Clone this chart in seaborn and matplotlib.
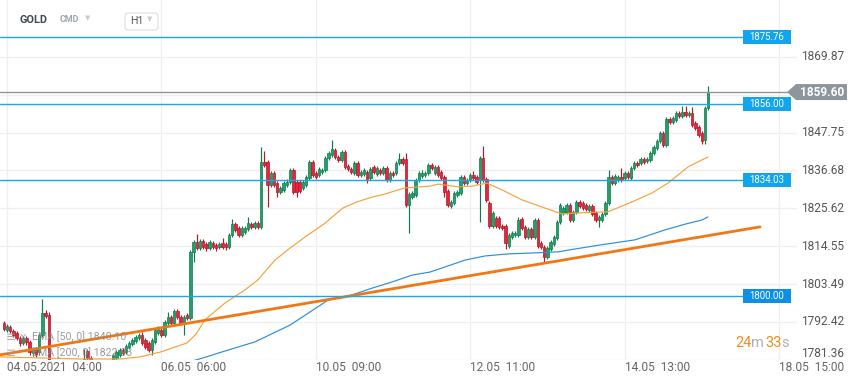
import matplotlib

matplotlib.use("Agg")
import matplotlib.pyplot as plt
import numpy as np
import seaborn as sns
from matplotlib.patches import Polygon, Rectangle, FancyBboxPatch
from matplotlib.transforms import IdentityTransform, blended_transform_factory

# ---- data (GOLD, H1 candles, index 0 = 04.05.2021 04:00) ----
first_index = -1

opens = [
    1792.1, 1790.1, 1791.0, 1789.8, 1789.2, 1787.7, 1786.3, 1787.7, 1786.6, 1783.4,
    1784.5, 1783.6, 1788.6, 1795.0, 1794.5, 1776.0, 1774.5, 1775.8, 1773.2, 1772.0,
    1773.6, 1775.9, 1777.4, 1776.2, 1778.5, 1780.2, 1784.0, 1782.0, 1779.5, 1777.8,
    1778.9, 1777.5, 1779.2, 1778.3, 1780.4, 1781.9, 1782.8, 1784.2, 1783.6, 1785.1,
    1786.0, 1786.9, 1787.7, 1788.6, 1787.2, 1786.3, 1784.2, 1786.6, 1789.2, 1790.1,
    1788.6, 1792.1, 1793.9, 1792.1, 1795.6, 1793.9, 1792.1, 1794.5, 1793.6, 1812.9,
    1815.8, 1814.0, 1816.1, 1815.2, 1814.0, 1815.5, 1814.9, 1814.3, 1815.5, 1815.2,
    1814.3, 1817.8, 1821.0, 1819.9, 1817.8, 1818.7, 1819.6, 1821.0, 1820.2, 1821.3,
    1820.2, 1839.2, 1839.2, 1832.4, 1835.9, 1833.0, 1830.4, 1831.0, 1832.4, 1833.3,
    1836.8, 1833.3, 1833.3, 1831.6, 1832.4, 1834.5, 1839.2, 1835.9, 1835.4, 1836.2,
    1836.8, 1840.3, 1841.2, 1842.7, 1840.6, 1839.7, 1842.1, 1838.0, 1837.1, 1835.9,
    1838.9, 1835.4, 1835.6, 1836.2, 1834.5, 1837.7, 1835.6, 1836.8, 1835.9, 1837.4,
    1833.9, 1835.9, 1835.9, 1838.9, 1840.0, 1840.0, 1826.6, 1828.9, 1829.5, 1833.9,
    1835.1, 1835.4, 1835.9, 1838.3, 1835.9, 1837.7, 1836.2, 1834.8, 1830.7, 1826.3,
    1827.2, 1829.5, 1830.1, 1834.8, 1833.0, 1833.9, 1835.4, 1834.8, 1833.9, 1840.3,
    1834.2, 1827.2, 1820.5, 1822.8, 1822.8, 1820.5, 1820.5, 1814.6, 1817.2, 1817.8,
    1817.8, 1822.5, 1820.2, 1817.2, 1819.6, 1817.2, 1822.2, 1815.5, 1814.3, 1811.4,
    1813.7, 1815.2, 1817.0, 1821.6, 1824.3, 1824.6, 1826.6, 1822.2, 1824.6, 1827.5,
    1827.2, 1826.6, 1825.1, 1826.3, 1824.3, 1822.2, 1822.2, 1824.0, 1827.2, 1834.8,
    1833.0, 1833.9, 1834.8, 1834.5, 1835.9, 1834.5, 1837.4, 1838.9, 1838.9, 1840.0,
    1839.5, 1839.7, 1841.8, 1843.2, 1845.3, 1847.6, 1844.1, 1851.7, 1850.8, 1851.4,
    1853.5, 1852.6, 1853.8, 1852.9, 1853.5, 1850.6, 1849.4, 1847.6, 1845.6, 1854.9,
]
highs = [
    1792.7, 1791.8, 1791.5, 1790.4, 1789.8, 1788.3, 1788.3, 1788.3, 1787.2, 1785.1,
    1785.1, 1789.2, 1799.1, 1795.9, 1795.3, 1777.5, 1776.8, 1776.2, 1774.0, 1774.5,
    1776.8, 1778.6, 1778.2, 1779.4, 1781.0, 1784.6, 1784.6, 1782.5, 1780.3, 1779.8,
    1779.6, 1780.0, 1780.1, 1781.0, 1783.4, 1784.2, 1784.8, 1784.8, 1786.0, 1786.9,
    1787.7, 1788.6, 1789.2, 1789.5, 1787.7, 1786.9, 1787.7, 1790.7, 1791.2, 1790.7,
    1793.0, 1795.3, 1794.5, 1796.2, 1796.2, 1794.5, 1794.5, 1795.0, 1813.5, 1816.4,
    1818.1, 1816.7, 1816.7, 1815.8, 1816.4, 1816.1, 1815.5, 1815.8, 1817.0, 1815.8,
    1818.4, 1822.5, 1821.6, 1820.5, 1820.5, 1820.5, 1823.1, 1821.6, 1821.9, 1821.9,
    1843.5, 1842.4, 1839.7, 1836.5, 1836.5, 1833.6, 1832.1, 1833.6, 1834.2, 1837.4,
    1837.4, 1833.9, 1833.9, 1833.9, 1835.4, 1839.7, 1839.7, 1836.5, 1837.7, 1837.4,
    1840.9, 1842.4, 1845.6, 1843.2, 1841.2, 1842.7, 1842.7, 1838.6, 1837.7, 1839.5,
    1839.5, 1836.8, 1837.4, 1836.8, 1837.7, 1838.3, 1838.0, 1837.4, 1838.0, 1838.0,
    1836.5, 1836.5, 1839.5, 1841.8, 1840.6, 1841.8, 1830.4, 1830.7, 1834.5, 1836.5,
    1836.8, 1836.5, 1838.9, 1838.9, 1838.3, 1838.3, 1836.8, 1835.4, 1831.3, 1828.0,
    1830.7, 1831.0, 1835.4, 1835.4, 1834.5, 1836.0, 1836.5, 1835.4, 1840.9, 1843.8,
    1834.8, 1827.8, 1824.8, 1823.4, 1823.4, 1821.0, 1821.0, 1818.4, 1819.0, 1819.0,
    1823.1, 1823.1, 1820.8, 1820.2, 1820.2, 1822.8, 1822.8, 1816.1, 1814.9, 1814.6,
    1816.4, 1817.8, 1822.2, 1827.2, 1826.3, 1827.2, 1827.2, 1825.1, 1828.0, 1828.0,
    1827.8, 1827.2, 1826.9, 1826.9, 1824.8, 1823.7, 1824.6, 1827.8, 1836.8, 1835.4,
    1835.6, 1835.4, 1837.4, 1836.5, 1836.5, 1838.0, 1839.5, 1839.5, 1840.6, 1840.6,
    1840.6, 1842.4, 1844.1, 1845.9, 1848.2, 1848.2, 1852.3, 1852.3, 1852.6, 1854.1,
    1854.1, 1855.5, 1855.5, 1854.1, 1855.2, 1851.1, 1850.0, 1848.2, 1855.5, 1861.4,
]
lows = [
    1789.8, 1789.5, 1789.2, 1788.0, 1787.2, 1785.4, 1785.7, 1785.7, 1782.8, 1782.5,
    1782.2, 1782.8, 1788.0, 1793.6, 1775.0, 1773.5, 1773.8, 1772.5, 1771.0, 1771.2,
    1773.0, 1775.2, 1775.5, 1775.8, 1777.9, 1779.5, 1780.0, 1778.8, 1776.9, 1777.0,
    1776.5, 1776.8, 1777.4, 1777.9, 1779.8, 1781.0, 1782.2, 1782.8, 1783.1, 1784.5,
    1785.4, 1786.3, 1787.2, 1785.7, 1784.5, 1783.6, 1782.8, 1786.0, 1788.6, 1788.0,
    1788.0, 1791.5, 1791.5, 1791.5, 1793.3, 1791.5, 1788.6, 1793.0, 1793.0, 1809.9,
    1813.5, 1813.5, 1813.7, 1813.2, 1813.5, 1813.7, 1813.2, 1813.7, 1813.7, 1813.5,
    1813.7, 1817.2, 1818.7, 1817.2, 1817.2, 1818.1, 1819.0, 1819.6, 1819.6, 1819.6,
    1819.6, 1837.7, 1826.0, 1831.8, 1831.8, 1828.9, 1829.8, 1830.4, 1831.8, 1832.7,
    1829.8, 1828.9, 1830.1, 1831.0, 1831.8, 1833.9, 1834.8, 1834.2, 1834.8, 1835.6,
    1836.2, 1839.7, 1840.6, 1840.0, 1839.2, 1839.2, 1837.1, 1836.5, 1835.6, 1835.4,
    1834.8, 1834.8, 1835.1, 1833.0, 1833.9, 1835.6, 1835.1, 1835.4, 1835.4, 1833.3,
    1833.3, 1834.8, 1835.4, 1838.3, 1838.3, 1826.0, 1818.4, 1828.3, 1828.9, 1833.3,
    1834.5, 1834.8, 1835.4, 1836.8, 1835.4, 1834.8, 1833.9, 1828.9, 1826.0, 1825.7,
    1826.6, 1828.9, 1829.5, 1832.4, 1832.4, 1833.3, 1833.9, 1832.7, 1821.6, 1833.3,
    1827.5, 1819.9, 1819.9, 1819.9, 1819.6, 1819.3, 1813.7, 1814.0, 1816.7, 1817.2,
    1817.2, 1819.3, 1816.7, 1816.7, 1816.7, 1816.7, 1814.0, 1813.7, 1809.7, 1810.8,
    1813.2, 1814.6, 1816.4, 1821.0, 1823.7, 1824.0, 1821.6, 1821.6, 1824.0, 1825.7,
    1825.1, 1824.8, 1824.6, 1823.4, 1821.6, 1820.2, 1821.6, 1823.4, 1826.6, 1832.4,
    1832.4, 1833.3, 1833.3, 1833.9, 1834.2, 1833.9, 1836.8, 1837.7, 1838.3, 1838.6,
    1838.9, 1839.2, 1841.2, 1842.7, 1844.7, 1843.5, 1843.5, 1850.3, 1850.3, 1850.8,
    1852.0, 1852.0, 1852.3, 1852.3, 1849.4, 1848.5, 1846.5, 1844.4, 1844.4, 1854.3,
]
closes = [
    1790.4, 1791.2, 1789.8, 1788.6, 1787.7, 1786.3, 1787.7, 1786.6, 1783.6, 1784.5,
    1783.1, 1788.6, 1795.0, 1794.2, 1776.0, 1774.5, 1775.8, 1773.2, 1772.0, 1773.6,
    1775.9, 1777.4, 1776.2, 1778.5, 1780.2, 1781.5, 1782.0, 1779.5, 1777.8, 1778.9,
    1777.5, 1779.2, 1778.3, 1780.4, 1782.8, 1783.6, 1784.2, 1783.4, 1785.4, 1786.3,
    1787.2, 1788.0, 1788.6, 1786.3, 1785.1, 1784.2, 1787.2, 1790.1, 1790.4, 1788.6,
    1792.4, 1793.9, 1792.1, 1795.6, 1793.9, 1792.1, 1793.9, 1793.6, 1812.9, 1815.8,
    1814.0, 1816.1, 1814.3, 1814.0, 1815.8, 1814.3, 1814.0, 1815.2, 1814.3, 1814.3,
    1817.8, 1821.0, 1819.3, 1817.8, 1819.9, 1819.9, 1821.3, 1820.2, 1821.3, 1820.2,
    1839.2, 1838.3, 1832.4, 1835.9, 1832.4, 1830.4, 1831.6, 1833.0, 1833.3, 1836.8,
    1830.4, 1830.4, 1830.7, 1833.3, 1834.8, 1839.2, 1835.4, 1834.8, 1837.1, 1836.8,
    1840.3, 1841.8, 1843.0, 1840.6, 1839.7, 1842.1, 1837.7, 1837.1, 1836.2, 1838.9,
    1835.4, 1836.2, 1836.8, 1834.2, 1837.1, 1836.2, 1837.4, 1835.9, 1837.4, 1833.9,
    1835.9, 1835.4, 1838.9, 1840.0, 1838.9, 1826.6, 1829.8, 1830.1, 1833.9, 1835.9,
    1835.9, 1835.9, 1838.3, 1837.4, 1837.7, 1835.4, 1834.5, 1830.4, 1826.6, 1827.5,
    1830.1, 1830.4, 1834.8, 1833.0, 1833.9, 1835.4, 1834.5, 1833.3, 1840.3, 1833.9,
    1828.0, 1820.5, 1824.3, 1820.5, 1820.2, 1819.9, 1815.5, 1817.8, 1818.4, 1818.4,
    1822.2, 1819.9, 1817.2, 1819.6, 1817.2, 1822.2, 1814.6, 1814.3, 1811.4, 1814.0,
    1815.8, 1817.2, 1821.6, 1826.6, 1825.7, 1826.6, 1822.2, 1824.6, 1827.5, 1826.3,
    1825.7, 1825.4, 1826.3, 1824.0, 1822.2, 1823.1, 1824.0, 1827.2, 1834.8, 1833.0,
    1835.1, 1834.8, 1833.9, 1835.9, 1834.8, 1837.4, 1838.9, 1838.3, 1840.0, 1839.2,
    1840.0, 1841.8, 1843.5, 1845.3, 1847.6, 1844.1, 1851.7, 1850.8, 1852.0, 1853.5,
    1852.6, 1853.8, 1852.9, 1853.5, 1850.0, 1849.1, 1847.0, 1845.3, 1854.9, 1859.6,
]

# EMA lines (candle index, price)
ema50_idx = [-2.2, 10.3, 22.7, 35.1, 41.3, 47.6, 56.0, 58.8, 61.5, 67.8, 74.0, 78.0,
             83.3, 88.0, 92.6, 98.9, 104.4, 108.8, 113.5, 117.5, 123.7, 131.5, 134.0,
             140.2, 144.5, 149.2, 153.9, 160.1, 166.3, 172.5, 178.1, 186.8, 194.3,
             200.5, 205.5, 211.7, 214.8, 217.9]
ema50_val = [1782.2, 1781.9, 1781.6, 1781.6, 1782.2, 1783.6, 1786.3, 1788.9, 1793.0,
             1798.0, 1801.8, 1804.7, 1810.5, 1814.0, 1817.2, 1821.3, 1825.7, 1827.5,
             1828.9, 1829.8, 1831.6, 1832.1, 1832.7, 1831.9, 1832.1, 1833.0, 1831.0,
             1828.1, 1826.0, 1824.0, 1824.3, 1824.6, 1827.5, 1830.1, 1833.0, 1837.7,
             1839.2, 1840.6]
ema200_idx = [55.3, 60.9, 68.7, 77.1, 88.0, 99.8, 107.2, 113.5, 119.7, 125.9, 131.5,
              136.2, 142.4, 148.6, 155.7, 164.1, 171.3, 175.0, 184.3, 195.2, 204.5,
              210.8, 216.0, 217.9]
ema200_val = [1780.4, 1781.9, 1784.2, 1786.6, 1791.5, 1798.8, 1800.3, 1802.3, 1804.1,
              1806.1, 1807.0, 1808.5, 1810.5, 1811.7, 1812.3, 1812.6, 1812.9, 1813.5,
              1814.9, 1816.4, 1819.3, 1821.0, 1822.2, 1823.1]

trend_idx = [-2.18, 234.1]
trend_val = [1782.8, 1820.2]

levels = [1875.76, 1856.00, 1834.03, 1800.00]
last_price = 1859.60
y_ticks = [1781.36, 1792.42, 1803.49, 1814.55, 1825.62, 1836.68, 1847.75, 1869.87]
y_grid_extra = [1858.81]
x_ticks = [0, 48, 96, 144, 192, 240]
x_labels = ["04.05.2021  04:00", "06.05  06:00", "10.05  09:00",
            "12.05  11:00", "14.05  13:00", "18.05  15:00"]
ema50_label = "EMA [50, 0] 1840.10"
ema200_label = "EMA [200, 0] 1822.93"

assert len(opens) == len(highs) == len(lows) == len(closes)

# ---- style ----
W, H = 859, 384
sns.set_theme(style="white")
plt.rcParams["font.family"] = ["Roboto", "DejaVu Sans"]

GREEN, GREEN_EDGE = "#22a06b", "#117a4c"
RED, RED_EDGE = "#e3263b", "#b3182a"
LEVEL_BLUE = "#1ca6e6"
BOX_BLUE = "#10a5ec"
GRID = "#efefef"
PRICE_GREY = "#8c969b"

fig = plt.figure(figsize=(W / 100, H / 100), dpi=100)
fig.patch.set_facecolor("white")
ax = fig.add_axes([0, 24 / H, 797 / W, 360 / H])
ax.set_xlim(-2.18, 245.6)
ax.set_ylim(1781.3, 1886.5)
for s in ax.spines.values():
    s.set_visible(False)

ax.set_yticks(y_ticks + y_grid_extra)
ax.set_xticks(x_ticks)
ax.grid(True, color=GRID, lw=0.9, zorder=0)
ax.tick_params(axis="both", length=0, labelleft=False)
ax.set_xticklabels(x_labels, ha="left", fontsize=8.6, color="#666666")
ax.tick_params(axis="x", pad=1)

# ---- candles ----
idx = np.arange(first_index, first_index + len(closes))
o = np.array(opens)
c = np.array(closes)
up = c >= o
edge = np.where(up, GREEN_EDGE, RED_EDGE)
fill = np.where(up, GREEN, RED)
ax.vlines(idx, lows, highs, colors=edge, lw=0.85, zorder=3)
body = np.maximum(np.abs(c - o), 0.3)
ax.bar(idx, body, bottom=np.minimum(o, c), width=0.76, color=fill,
       edgecolor=edge, linewidth=0.5, zorder=3)

# ---- indicators ----
sns.lineplot(x=ema50_idx, y=ema50_val, ax=ax, color="#f7a23a", lw=0.85,
             estimator=None, sort=False, zorder=4)
sns.lineplot(x=ema200_idx, y=ema200_val, ax=ax, color="#2b8fd8", lw=0.85,
             estimator=None, sort=False, zorder=4)
sns.lineplot(x=trend_idx, y=trend_val, ax=ax, color="#f07814", lw=2.0,
             estimator=None, sort=False, zorder=5)

for v in levels:
    ax.axhline(v, xmin=0, xmax=743 / 797, color=LEVEL_BLUE, lw=1.0, zorder=5)
ax.axhline(last_price, xmin=0, xmax=787 / 797, color=PRICE_GREY, lw=1.0, zorder=5)

# right price scale
tr = blended_transform_factory(ax.transAxes, ax.transData)
for v in y_ticks:
    va = "bottom" if v == y_ticks[0] else "center"
    ax.text(1 + 4 / 797, v, f"{v:.2f}", transform=tr, ha="left", va=va,
            fontsize=8.6, color="#555555", clip_on=False)

ident = IdentityTransform()


def disp_y(v):
    return ax.transData.transform((0, v))[1]


for v in levels:
    yd = disp_y(v)
    col = "#0b90e6" if v == levels[-1] else BOX_BLUE
    fig.add_artist(Rectangle((743, yd - 7), 48, 14, transform=ident,
                             facecolor=col, edgecolor="none", zorder=10))
    fig.text(767, yd, f"{v:.2f}", transform=ident, ha="center", va="center",
             fontsize=6.9, color="white", zorder=11)

yd = disp_y(last_price)
fig.add_artist(Polygon([(787, yd), (796, yd + 8), (847, yd + 8), (847, yd - 8),
                        (796, yd - 8)], closed=True, transform=ident,
                       facecolor=PRICE_GREY, edgecolor="none", zorder=10))
fig.text(822, yd, f"{last_price:.2f}", transform=ident, ha="center", va="center",
         fontsize=8.6, color="white", fontweight="bold", zorder=11)

# countdown
for x0, s, col in [(735, "24", "#f28c1c"), (751, "m", "#b0b0b0"),
                   (765, "33", "#f28c1c"), (781, "s", "#b0b0b0")]:
    fig.text(x0, H - 343, s, transform=ident, ha="left", va="center",
             fontsize=10.5, color=col, zorder=11)

# legend overlay
fig.text(6, H - 337, "≡", transform=ident, ha="left", va="center",
         fontsize=9, color="#9a9a9a", alpha=0.8, zorder=11)
fig.text(19, H - 337, "×", transform=ident, ha="left", va="center",
         fontsize=9, color="#9a9a9a", alpha=0.8, zorder=11)
fig.text(6, H - 353, "≡", transform=ident, ha="left", va="center",
         fontsize=9, color="#9a9a9a", alpha=0.8, zorder=11)
fig.text(32, H - 337, ema50_label, transform=ident, ha="left", va="center",
         fontsize=7.7, color="#8a8a8a", alpha=0.85, zorder=11)
fig.text(32, H - 353, ema200_label, transform=ident, ha="left", va="center",
         fontsize=7.7, color="#8a8a8a", alpha=0.85, zorder=11)

# header
fig.text(20, H - 20, "GOLD", transform=ident, ha="left", va="center",
         fontsize=7.8, fontweight="bold", color="#3d4852", zorder=11)
fig.text(60, H - 20, "CMD", transform=ident, ha="left", va="center",
         fontsize=6.4, fontweight="bold", color="#a0a6ab", zorder=11)
fig.text(85, H - 19, "▼", transform=ident, ha="left", va="center",
         fontsize=5, color="#cccccc", zorder=11)
fig.add_artist(FancyBboxPatch((125, H - 30), 33, 17, boxstyle="round,pad=0,rounding_size=3",
                              transform=ident, facecolor="white",
                              edgecolor="#dddddd", lw=0.8, zorder=10))
fig.text(130, H - 21, "H1", transform=ident, ha="left", va="center",
         fontsize=7.6, color="#555555", zorder=11)
fig.text(147, H - 20, "▼", transform=ident, ha="left", va="center",
         fontsize=5, color="#cccccc", zorder=11)

fig.savefig("out.png", dpi=100, facecolor="white")
